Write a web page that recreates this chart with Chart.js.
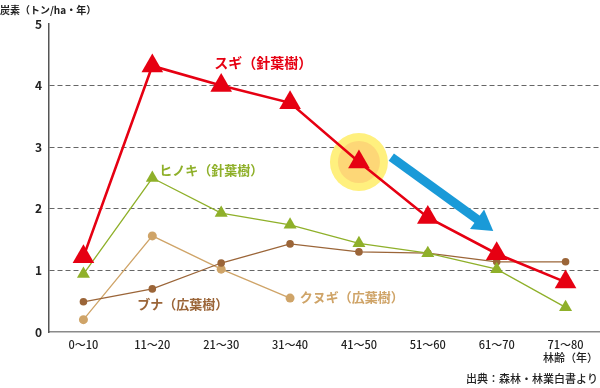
<!DOCTYPE html>
<html><head><meta charset="utf-8">
<script src="https://cdn.jsdelivr.net/npm/chart.js@4"></script>
<style>html,body{margin:0;padding:0;background:#fff}#w{width:600px;height:388px;position:relative}</style>
</head><body><div id="w"><canvas id="c"></canvas></div>
<script>
const categories = ['0〜10','11〜20','21〜30','31〜40','41〜50','51〜60','61〜70','71〜80'];
const sugi   = [1.22, 4.32, 4.00, 3.72, 2.76, 1.86, 1.27, 0.81];
const hinoki = [0.94, 2.50, 1.93, 1.74, 1.44, 1.28, 1.02, 0.40];
const buna   = [0.49, 0.70, 1.12, 1.43, 1.30, 1.28, 1.14, 1.14];
const kunugi = [0.20, 1.56, 1.02, 0.55, null, null, null, null];
const yTicks = [0, 1, 2, 3, 4, 5];
const seriesLabels = ['スギ（針葉樹）','ヒノキ（針葉樹）','ブナ（広葉樹）','クヌギ（広葉樹）'];
const JP = '"Noto Sans CJK JP","Noto Sans",sans-serif';

const deco = {
  id: 'deco',
  beforeDatasetsDraw(chart) {
    const {ctx, scales:{x, y}} = chart;
    const cx = x.getPixelForValue(4), cy = y.getPixelForValue(sugi[4]);
    ctx.save();
    ctx.fillStyle = '#fff07e';
    ctx.beginPath(); ctx.arc(cx, cy, 29, 0, Math.PI*2); ctx.fill();
    ctx.fillStyle = '#fdd777';
    ctx.beginPath(); ctx.arc(cx, cy, 21, 0, Math.PI*2); ctx.fill();
    ctx.restore();
  },
  afterDatasetsDraw(chart) {
    const {ctx, scales:{x, y}} = chart;
    const x1 = x.getPixelForValue(4.47), y1 = y.getPixelForValue(2.84);
    const x2 = x.getPixelForValue(5.95), y2 = y.getPixelForValue(1.64);
    const ang = Math.atan2(y2-y1, x2-x1);
    const headLen = 20, headW = 12;
    const bx = x2 - Math.cos(ang)*headLen, by = y2 - Math.sin(ang)*headLen;
    ctx.save();
    ctx.strokeStyle = '#1a9ad8'; ctx.fillStyle = '#1a9ad8';
    ctx.lineWidth = 9; ctx.lineCap = 'butt';
    ctx.beginPath(); ctx.moveTo(x1, y1); ctx.lineTo(bx + Math.cos(ang)*2, by + Math.sin(ang)*2); ctx.stroke();
    ctx.beginPath();
    ctx.moveTo(x2, y2);
    ctx.lineTo(bx + Math.sin(ang)*headW, by - Math.cos(ang)*headW);
    ctx.lineTo(bx - Math.sin(ang)*headW, by + Math.cos(ang)*headW);
    ctx.closePath(); ctx.fill();
    ctx.textBaseline = 'middle'; ctx.textAlign = 'left';
    const lab = (t, xi, yv, col, size) => {
      ctx.font = 'bold ' + size + 'px ' + JP; ctx.fillStyle = col;
      ctx.fillText(t, x.getPixelForValue(xi), y.getPixelForValue(yv));
    };
    lab(seriesLabels[0], 1.90, 4.38, '#e60012', 14);
    lab(seriesLabels[1], 1.10, 2.63, '#8fb02a', 13);
    lab(seriesLabels[2], 0.78, 0.45, '#9b6538', 13);
    lab(seriesLabels[3], 3.14, 0.56, '#cfa468', 13);
    ctx.fillStyle = '#222';
    ctx.font = 'bold 10px ' + JP;
    ctx.textAlign = 'left';
    ctx.fillText('炭素（トン/ha・年）', 0, 10);
    ctx.font = '500 11px ' + JP;
    ctx.textAlign = 'right';
    ctx.fillText('林齢（年）', 598, 358);
    ctx.fillText('出典：森林・林業白書より', 598, 379);
    ctx.restore();
  }
};

new Chart(document.getElementById('c'), {
  type: 'line',
  data: {
    labels: categories,
    datasets: [
      {label: seriesLabels[0], data: sugi, borderColor: '#e60012', backgroundColor: '#e60012', borderWidth: 2.6, pointStyle: 'triangle', pointRadius: 12.5, pointHoverRadius: 12.5, pointBorderWidth: 0},
      {label: seriesLabels[1], data: hinoki, borderColor: '#8fb02a', backgroundColor: '#8fb02a', borderWidth: 1.3, pointStyle: 'triangle', pointRadius: 7.5, pointBorderWidth: 0},
      {label: seriesLabels[2], data: buna, borderColor: '#9b6538', backgroundColor: '#9b6538', borderWidth: 1.3, pointStyle: 'circle', pointRadius: 3.8, pointBorderWidth: 0},
      {label: seriesLabels[3], data: kunugi, borderColor: '#cfa468', backgroundColor: '#cfa468', borderWidth: 1.3, pointStyle: 'circle', pointRadius: 4.5, pointBorderWidth: 0, spanGaps: false}
    ]
  },
  options: {
    responsive: true, maintainAspectRatio: false, animation: false,
    layout: {autoPadding: false, padding: {top: 24, right: 0, left: 0, bottom: 0}},
    plugins: {legend: {display: false}, tooltip: {enabled: false}},
    scales: {
      x: {
        offset: true,
        grid: {display: false, drawTicks: false},
        border: {display: true, color: '#8a8a8a', width: 1.5},
        ticks: {color: '#222', font: {family: JP, size: 11, weight: '500'}, padding: 6, maxRotation: 0, autoSkip: false},
        afterFit(s) { s.height = 56; s.paddingLeft = 0; s.paddingRight = 0; }
      },
      y: {
        min: 0, max: 5,
        afterBuildTicks(s) { s.ticks = yTicks.map(v => ({value: v})); },
        grid: {
          color: (c) => (c.tick && (c.tick.value === 0 || c.tick.value === 5)) ? 'rgba(0,0,0,0)' : '#666',
          drawTicks: false, lineWidth: 1
        },
        border: {display: true, color: '#555', width: 1.5, dash: [5, 3]},
        ticks: {color: '#222', font: {family: JP, size: 12, weight: 'bold'}, padding: 7},
        afterFit(s) { s.width = 49; }
      }
    }
  },
  plugins: [deco]
});
</script></body></html>
